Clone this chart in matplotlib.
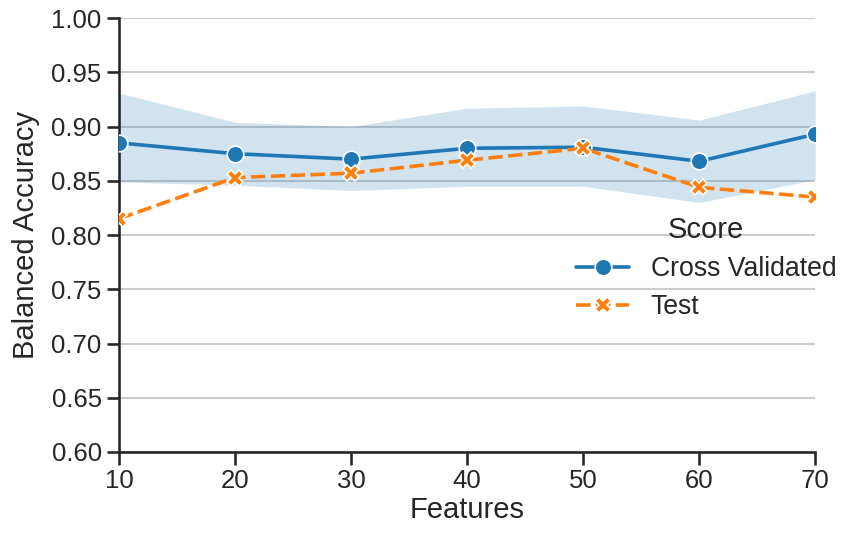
import matplotlib
matplotlib.use("Agg")
import matplotlib.pyplot as plt
import seaborn as sns

features = [10, 20, 30, 40, 50, 60, 70]
cv_mean = [0.885, 0.875, 0.870, 0.880, 0.881, 0.868, 0.893]
cv_upper = [0.931, 0.904, 0.900, 0.917, 0.919, 0.906, 0.933]
cv_lower = [0.849, 0.846, 0.841, 0.845, 0.845, 0.830, 0.851]
test_score = [0.815, 0.853, 0.857, 0.869, 0.880, 0.844, 0.835]

sns.set_theme(style="ticks", context="talk")
plt.rcParams['font.family'] = ['Liberation Sans', 'DejaVu Sans']

fig = plt.figure(figsize=(8.44, 5.33), dpi=100)
ax = fig.add_axes([0.141, 0.152, 0.825, 0.814])

blue = "#1f77b4"
orange = "#ff7f0e"

ax.yaxis.grid(True, color="#cccccc", linewidth=1.5, zorder=0)
ax.set_axisbelow(True)

ax.fill_between(features, cv_lower, cv_upper, color=blue, alpha=0.2, linewidth=0, zorder=1)
ax.plot(features, cv_mean, color=blue, marker="o", ms=12, mec="white", mew=1.2,
        lw=2.6, label="Cross Validated", zorder=3)
ax.plot(features, test_score, color=orange, marker="X", ms=12, mec="white", mew=1.2,
        lw=2.6, dashes=(4, 1.5), label="Test", zorder=3)

ax.set_xlim(10, 70)
ax.set_ylim(0.60, 1.00)
ax.set_xticks(range(10, 71, 10))
ax.set_yticks([0.60 + 0.05 * i for i in range(9)])
ax.set_yticklabels([f"{0.60 + 0.05 * i:.2f}" for i in range(9)])
ax.tick_params(labelsize=18.5)
ax.set_xlabel("Features", fontsize=21, labelpad=2)
ax.set_ylabel("Balanced Accuracy", fontsize=21, labelpad=8)
sns.despine(ax=ax)

# legend sits partly outside the axes, no frame
leg = ax.legend(title="Score", frameon=False, loc="upper left",
                bbox_to_anchor=(0.654, 0.640), bbox_transform=fig.transFigure,
                fontsize=19.2, title_fontsize=21, labelspacing=0.45)

fig.savefig("out.png", dpi=100)
